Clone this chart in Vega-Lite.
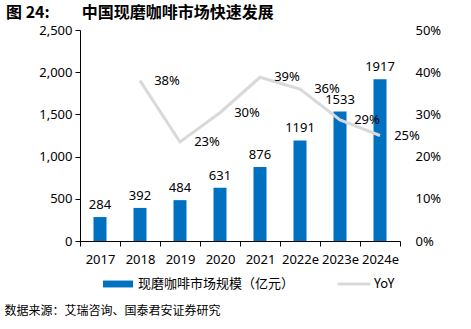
{
  "$schema": "https://vega.github.io/schema/vega-lite/v6.json",
  "width": 320,
  "height": 211,
  "autosize": "none",
  "padding": {"left": 80, "top": 30, "right": 71, "bottom": 88},
  "title": {"text": "图 24:　　中国现磨咖啡市场快速发展", "anchor": "start", "frame": "group", "dx": -74, "offset": 3, "fontSize": 16, "fontWeight": "bold", "font": "Noto Sans CJK SC", "color": "#000"},
  "config": {"view": {"stroke": null}, "font": "Noto Sans"},
  "data": {"values": [
    {"year": "2017", "size": 284, "yoy": null},
    {"year": "2018", "size": 392, "yoy": 0.38},
    {"year": "2019", "size": 484, "yoy": 0.2347},
    {"year": "2020", "size": 631, "yoy": 0.304},
    {"year": "2021", "size": 876, "yoy": 0.388},
    {"year": "2022e", "size": 1191, "yoy": 0.36},
    {"year": "2023e", "size": 1533, "yoy": 0.287},
    {"year": "2024e", "size": 1917, "yoy": 0.25}
  ]},
  "encoding": {
    "x": {"field": "year", "type": "ordinal", "sort": null,
      "scale": {"paddingInner": 0, "paddingOuter": 0},
      "axis": {"labelAngle": 0, "labelFontSize": 13, "labelColor": "#000", "domainColor": "#000", "tickColor": "#000", "tickSize": 5, "tickBand": "extent", "labelPadding": 7,
        "title": "数据来源：艾瑞咨询、国泰君安证券研究", "titleFont": "Noto Sans CJK SC", "titleFontSize": 12, "titleFontWeight": "normal", "titleColor": "#000", "titleAnchor": "start", "titleAlign": "left", "titleX": -76, "titleY": 69, "titleBaseline": "middle"}}
  },
  "layer": [
    {
      "encoding": {
        "y": {"field": "size", "type": "quantitative", "scale": {"domain": [0, 2500]},
          "axis": {"values": [0, 500, 1000, 1500, 2000, 2500], "format": ",.0f", "grid": false, "title": null, "labelFontSize": 13, "labelColor": "#000", "domainColor": "#000", "tickColor": "#000", "tickSize": 5, "labelPadding": 3}}
      },
      "layer": [
        {"mark": {"type": "bar", "width": 13},
         "encoding": {"color": {"datum": "现磨咖啡市场规模（亿元）", "scale": {"domain": ["现磨咖啡市场规模（亿元）", "YoY"], "range": ["#0070C0", "#D9D9D9"]},
           "legend": {"title": null, "orient": "none", "legendX": 23, "legendY": 239, "direction": "horizontal", "columnPadding": 42, "labelFont": "Noto Sans CJK SC", "labelFontSize": 13, "labelColor": "#000", "labelOffset": 5, "symbolSize": 900, "symbolStrokeWidth": 0, "symbolOpacity": 1,
             "encode": {"symbols": {"update": {
               "shape": {"signal": "datum.value == 'YoY' ? 'M-1.1,-0.1H1.1V0.1H-1.1Z' : 'M-1,-0.23H1V0.23H-1Z'"},
               "fill": {"signal": "datum.value == 'YoY' ? '#D9D9D9' : '#0070C0'"},
               "stroke": {"value": "transparent"}}}}}}}},
        {"mark": {"type": "text", "dy": -12, "fontSize": 13, "color": "#000"},
         "encoding": {"text": {"field": "size", "type": "quantitative", "format": "d"}}}
      ]
    },
    {
      "transform": [{"filter": "datum.yoy != null"}],
      "encoding": {
        "y": {"field": "yoy", "type": "quantitative", "scale": {"domain": [0, 0.5]},
          "axis": {"orient": "right", "values": [0, 0.1, 0.2, 0.3, 0.4, 0.5], "format": ".0%", "grid": false, "title": null, "domain": false, "ticks": false, "labelFontSize": 13, "labelColor": "#000", "labelPadding": 15}}
      },
      "layer": [
        {"mark": {"type": "line", "strokeWidth": 3},
         "encoding": {"color": {"datum": "YoY"}}},
        {"mark": {"type": "text", "dx": 27, "fontSize": 13, "color": "#000"},
         "encoding": {"text": {"field": "yoy", "type": "quantitative", "format": ".0%"}}}
      ]
    }
  ],
  "resolve": {"scale": {"y": "independent"}}
}
